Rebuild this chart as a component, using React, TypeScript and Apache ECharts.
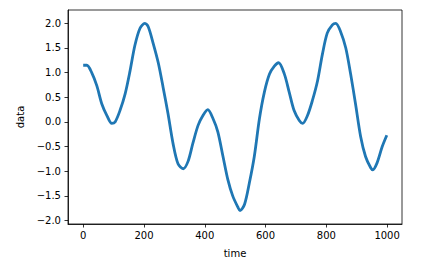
import React, { useEffect, useRef } from "react";
import * as echarts from "echarts";

const timeValues: number[] = [
  0, 12, 28, 45, 61, 78, 94, 105, 121, 138, 154, 170, 187, 203, 214, 230, 247, 263, 279, 296,
  312, 329, 345, 361, 378, 394, 410, 427, 443, 460, 476, 492, 509, 516, 531, 547, 563, 580, 596, 613,
  629, 643, 662, 678, 694, 711, 722, 738, 754, 771, 787, 803, 820, 831, 847, 864, 880, 896, 913, 929,
  946, 953, 967, 984, 999,
];
const dataValues: number[] = [
  1.15, 1.15, 1.0, 0.73, 0.37, 0.13, -0.03, 0.0, 0.23, 0.57, 1.03, 1.55, 1.9, 2.0, 1.93, 1.6, 1.2, 0.7, 0.17, -0.45,
  -0.85, -0.95, -0.8, -0.43, -0.07, 0.13, 0.25, 0.07, -0.2, -0.7, -1.17, -1.5, -1.73, -1.8, -1.67, -1.23, -0.7, 0.07, 0.6, 0.97,
  1.13, 1.2, 0.97, 0.6, 0.23, 0.03, -0.03, 0.13, 0.43, 0.83, 1.37, 1.8, 1.97, 2.0, 1.83, 1.5, 0.97, 0.37, -0.3, -0.7,
  -0.93, -0.97, -0.83, -0.5, -0.27,
];
const xTicks: number[] = [0, 200, 400, 600, 800, 1000];
const yTicks: number[] = [-2.0, -1.5, -1.0, -0.5, 0.0, 0.5, 1.0, 1.5, 2.0];

const FONT = "DejaVu Sans";

export default function App() {
  const ref = useRef<HTMLDivElement>(null);
  useEffect(() => {
    if (!ref.current) return;
    const chart = echarts.init(ref.current, undefined, { renderer: "svg" });
    const axisCommon = {
      axisLine: { show: true, onZero: false, lineStyle: { color: "#000", width: 0.8 } },
      axisTick: { show: true, inside: false, length: 3.5, lineStyle: { color: "#000", width: 0.8 } },
      splitLine: { show: false },
      nameTextStyle: { fontFamily: FONT, fontSize: 10, color: "#000" },
    };
    chart.setOption({
      animation: false,
      grid: {
        left: 68,
        right: 30,
        top: 10,
        bottom: 36,
        show: true,
        borderColor: "#000",
        borderWidth: 0.8,
        backgroundColor: "transparent",
      },
      xAxis: {
        type: "value",
        min: -50,
        max: 1049,
        name: "time",
        nameLocation: "middle",
        nameGap: 24,
        ...axisCommon,
        axisTick: { ...axisCommon.axisTick, customValues: xTicks },
        axisLabel: {
          customValues: xTicks,
          margin: 6,
          fontFamily: FONT,
          fontSize: 10,
          color: "#000",
          formatter: (v: number) => String(v),
        },
      },
      yAxis: {
        type: "value",
        min: -2.07,
        max: 2.27,
        name: "data",
        nameLocation: "middle",
        nameGap: 40,
        ...axisCommon,
        axisTick: { ...axisCommon.axisTick, customValues: yTicks },
        axisLabel: {
          customValues: yTicks,
          margin: 7,
          fontFamily: FONT,
          fontSize: 10,
          color: "#000",
          formatter: (v: number) => v.toFixed(1).replace("-", "\u2212"),
        },
      },
      series: [
        {
          type: "line",
          data: timeValues.map((t, i) => [t, dataValues[i]]),
          showSymbol: false,
          smooth: 0.3,
          lineStyle: { color: "#1f77b4", width: 2.8 },
        },
      ],
    });
    return () => chart.dispose();
  }, []);
  return <div ref={ref} style={{ width: 432, height: 263, position: "absolute", left: 0, top: 0 }} />;
}
